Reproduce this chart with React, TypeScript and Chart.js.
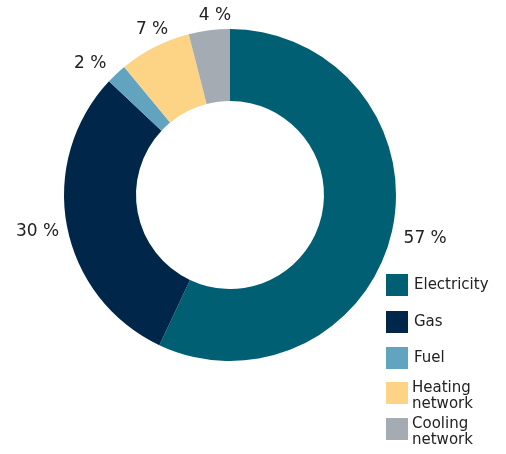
import React, { useEffect, useRef } from "react";
import { Chart, registerables } from "chart.js";

Chart.register(...registerables);

const categories = ["Electricity", "Gas", "Fuel", "Heating network", "Cooling network"];
const legendLines = [["Electricity"], ["Gas"], ["Fuel"], ["Heating", "network"], ["Cooling", "network"]];
const values = [57, 30, 2, 7, 4];
const valueLabels = ["57 %", "30 %", "2 %", "7 %", "4 %"];
const colors = ["#005F73", "#002749", "#62A3BF", "#FDD386", "#A4ABB2"];
const labelRadii = [200, 196, 192, 183, 180];
const labelAngleShift = [0, 0, -3.5, 1.8, 2.4];
const legendBoxY = [274, 311, 347, 382, 418];

const FONT = "'DejaVu Sans', sans-serif";

const labelPlugin = {
  id: "outerLabels",
  afterDraw(chart: any) {
    const ctx = chart.ctx;
    const meta = chart.getDatasetMeta(0);
    ctx.save();
    ctx.font = `17px ${FONT}`;
    ctx.fillStyle = "#222222";
    ctx.textAlign = "center";
    ctx.textBaseline = "middle";
    meta.data.forEach((arc: any, i: number) => {
      const mid = (arc.startAngle + arc.endAngle) / 2 + (labelAngleShift[i] * Math.PI) / 180;
      const r = labelRadii[i];
      const x = arc.x + Math.cos(mid) * r;
      const y = arc.y + Math.sin(mid) * r;
      ctx.fillText(valueLabels[i], x, y);
    });
    // legend
    ctx.textAlign = "left";
    ctx.font = `15px ${FONT}`;
    legendLines.forEach((lines, i) => {
      const by = legendBoxY[i];
      ctx.fillStyle = colors[i];
      ctx.fillRect(386, by, 22, 22);
      ctx.fillStyle = "#222222";
      if (lines.length === 1) {
        ctx.fillText(lines[0], 414, by + 11);
      } else {
        ctx.fillText(lines[0], 412, by + 6);
        ctx.fillText(lines[1], 412, by + 22);
      }
    });
    ctx.restore();
  },
};

export default function App() {
  const ref = useRef<HTMLCanvasElement>(null);
  useEffect(() => {
    if (!ref.current) return;
    const chart = new Chart(ref.current, {
      type: "doughnut",
      data: {
        labels: categories,
        datasets: [
          {
            data: values,
            backgroundColor: colors,
            borderWidth: 0,
          },
        ],
      },
      options: {
        responsive: false,
        animation: false,
        cutout: "56.6%",
        layout: { padding: { left: 64, right: 110, top: 29, bottom: 93 } },
        plugins: {
          legend: { display: false },
          tooltip: { enabled: false },
        },
      },
      plugins: [labelPlugin],
    });
    return () => chart.destroy();
  }, []);
  return (
    <div style={{ position: "absolute", left: 0, top: 0, width: 506, height: 454, background: "#fff" }}>
      <canvas ref={ref} width={506} height={454} style={{ width: 506, height: 454 }} />
    </div>
  );
}
